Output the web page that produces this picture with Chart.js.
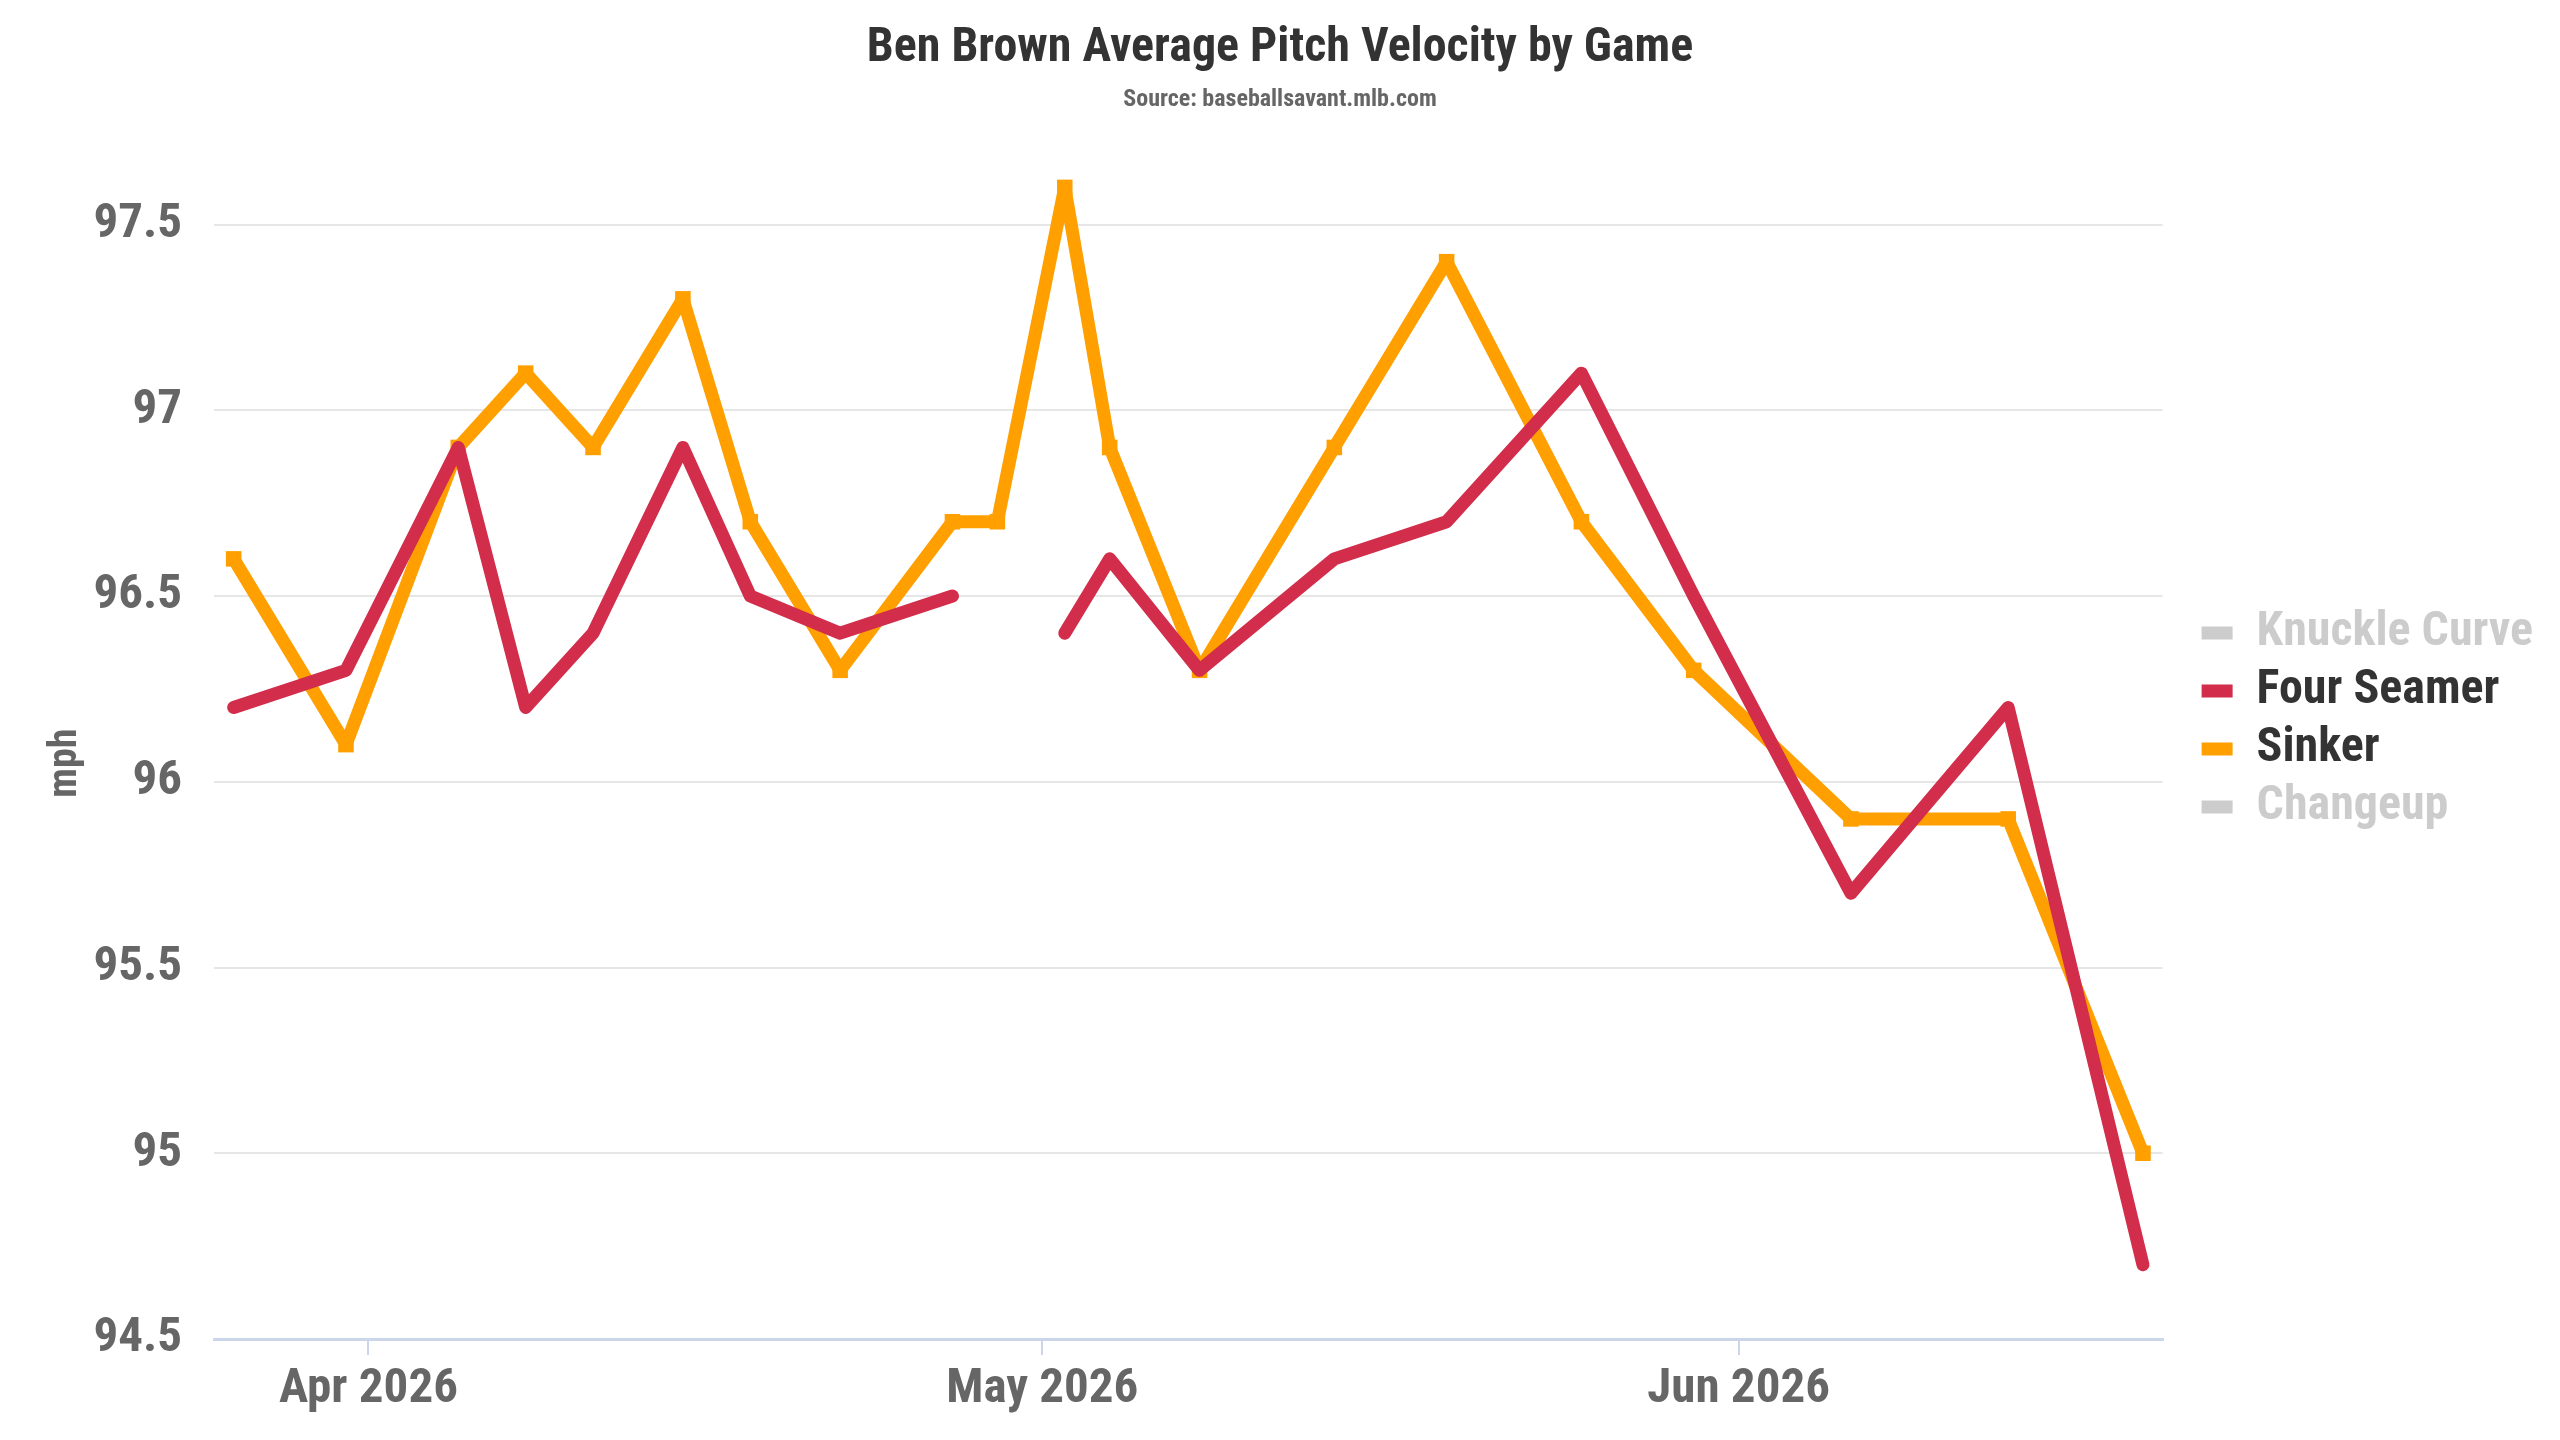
<!DOCTYPE html>
<html>
<head>
<meta charset="utf-8">
<title>Ben Brown Average Pitch Velocity by Game</title>
<script src="https://cdn.jsdelivr.net/npm/chart.js@4.4.1/dist/chart.umd.min.js"></script>
<style>
  html, body { margin: 0; padding: 0; background: #ffffff; }
  canvas { display: block; }
</style>
</head>
<body>
<canvas id="velocityChart" width="2560" height="1440"></canvas>
<script>
// Data per game (baseballsavant)
const gameDates = ['2026-03-26', '2026-03-31', '2026-04-05', '2026-04-08', '2026-04-11', '2026-04-15',
  '2026-04-18', '2026-04-22', '2026-04-27', '2026-04-29', '2026-05-02', '2026-05-04', '2026-05-08',
  '2026-05-14', '2026-05-19', '2026-05-25', '2026-05-30', '2026-06-06', '2026-06-13', '2026-06-19'];
const fourSeamer = [96.2, 96.3, 96.9, 96.2, 96.4, 96.9, 96.5, 96.4, 96.5, null, 96.4, 96.6, 96.3,
  96.6, 96.7, 97.1, 96.5, 95.7, 96.2, 94.7];
const sinker = [96.6, 96.1, 96.9, 97.1, 96.9, 97.3, 96.7, 96.3, 96.7, 96.7, 97.6, 96.9, 96.3,
  96.9, 97.4, 96.7, 96.3, 95.9, 95.9, 95.0];
const knuckleCurve = []; // disembunyikan di legend
const changeup = [];

// Tick bulan pada sumbu x
const tickDates = ['2026-04-01', '2026-05-01', '2026-06-01'];
const tickLabels = ['Apr 2026', 'May 2026', 'Jun 2026'];

const FONT = '"Roboto Condensed", "Liberation Sans Narrow", "DejaVu Sans Condensed", Roboto, sans-serif';
const toMs = (d) => Date.parse(d);

const toPoints = (values) => values.map((v, i) => ({ x: toMs(gameDates[i]), y: v }));

const ctx = document.getElementById('velocityChart').getContext('2d');
new Chart(ctx, {
  type: 'line',
  data: {
    datasets: [
      {
        label: 'Knuckle Curve',
        data: toPoints(knuckleCurve),
        borderColor: '#cccccc',
        hidden: true,
      },
      {
        label: 'Four Seamer',
        data: toPoints(fourSeamer),
        borderColor: '#d22d4b',
        backgroundColor: '#d22d4b',
        borderWidth: 13,
        borderCapStyle: 'round',
        borderJoinStyle: 'round',
        pointRadius: 0,
        tension: 0,
        spanGaps: false,
        clip: false,
      },
      {
        label: 'Sinker',
        data: toPoints(sinker),
        borderColor: '#ffa000',
        backgroundColor: '#ffa000',
        borderWidth: 13,
        borderJoinStyle: 'round',
        pointStyle: 'rect',
        pointRadius: 11,
        pointBorderWidth: 0,
        pointBackgroundColor: '#ffa000',
        tension: 0,
        clip: false,
      },
      {
        label: 'Changeup',
        data: toPoints(changeup),
        borderColor: '#cccccc',
        hidden: true,
      },
    ],
  },
  options: {
    responsive: false,
    devicePixelRatio: 1,
    animation: false,
    layout: { padding: { left: 17, right: 17, top: 0, bottom: 0 } },
    plugins: {
      title: {
        display: true,
        text: 'Ben Brown Average Pitch Velocity by Game',
        color: '#333333',
        font: { family: FONT, size: 48, weight: 'bold' },
        padding: { top: 20, bottom: 0 },
      },
      subtitle: {
        display: true,
        text: 'Source: baseballsavant.mlb.com',
        color: '#666666',
        font: { family: FONT, size: 24, weight: 'bold' },
        padding: { top: 8, bottom: 73 },
      },
      legend: {
        display: true,
        position: 'right',
        align: 'center',
        labels: {
          font: { family: FONT, size: 48, weight: 'bold' },
          boxWidth: 31,
          boxHeight: 13,
          padding: 10,
          generateLabels: (chart) => {
            return chart.data.datasets.map((ds, i) => {
              const off = ds.hidden;
              return {
                text: ds.label,
                fillStyle: off ? '#cccccc' : ds.borderColor,
                strokeStyle: off ? '#cccccc' : ds.borderColor,
                lineWidth: 0,
                fontColor: off ? '#cccccc' : '#333333',
                hidden: false,
                datasetIndex: i,
              };
            });
          },
        },
      },
      tooltip: { enabled: false },
    },
    scales: {
      x: {
        type: 'linear',
        min: Date.parse('2026-03-25T03:00:00Z'),
        max: Date.parse('2026-06-19T21:00:00Z'),
        afterBuildTicks: (scale) => {
          scale.ticks = tickDates.map((d) => ({ value: toMs(d) }));
        },
        afterFit: (scale) => { scale.height = 101; },
        grid: {
          drawOnChartArea: false,
          drawTicks: true,
          tickLength: 16,
          color: '#ccd6eb',
          lineWidth: 2,
        },
        border: { display: true, color: '#ccd6eb', width: 3 },
        ticks: {
          color: '#666666',
          padding: 5,
          maxRotation: 0,
          autoSkip: false,
          font: { family: FONT, size: 49, weight: 'bold' },
          callback: (value) => {
            const idx = tickDates.findIndex((d) => toMs(d) === value);
            return idx >= 0 ? tickLabels[idx] : '';
          },
        },
      },
      y: {
        min: 94.5,
        max: 97.6,
        afterFit: (scale) => { scale.width = 197; },
        grid: { color: '#e6e6e6', lineWidth: 2, drawTicks: false },
        border: { display: false },
        ticks: {
          stepSize: 0.5,
          includeBounds: false,
          color: '#666666',
          padding: 32,
          font: { family: FONT, size: 49, weight: 'bold' },
          callback: (value) => String(Number(value.toFixed(1))),
        },
        title: {
          display: true,
          text: 'mph',
          color: '#666666',
          font: { family: FONT, size: 40, weight: 'bold' },
          padding: { top: 25, bottom: 0 },
        },
      },
      y2: {
        position: 'right',
        display: true,
        grid: { display: false },
        border: { display: false },
        ticks: { display: false },
        afterFit: (scale) => { scale.width = 29; },
      },
    },
  },
});
</script>
</body>
</html>
